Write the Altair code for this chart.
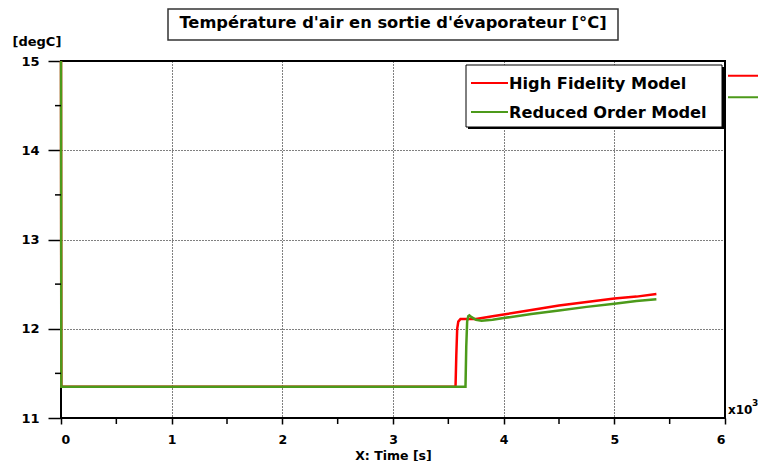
import altair as alt
import pandas as pd

# ---------------- data ----------------
series = ["High Fidelity Model", "Reduced Order Model"]
colors = ["#ff0000", "#4c9a1a"]

# time in 10^3 s
hf_t = [0, 0.003, 3.565, 3.572, 3.58, 3.59, 3.61, 3.65, 3.75, 3.9, 4.0, 4.25, 4.5, 4.75, 5.0, 5.2, 5.38]
hf_y = [15, 11.35, 11.35, 11.7, 12.0, 12.08, 12.11, 12.11, 12.11, 12.14, 12.16, 12.21, 12.26, 12.30, 12.34, 12.36, 12.39]

rom_t = [0, 0.003, 3.655, 3.662, 3.67, 3.68, 3.69, 3.71, 3.75, 3.8, 3.9, 4.0, 4.25, 4.5, 4.75, 5.0, 5.2, 5.38]
rom_y = [15, 11.35, 11.35, 11.8, 12.08, 12.14, 12.15, 12.13, 12.10, 12.09, 12.10, 12.12, 12.165, 12.205, 12.245, 12.28, 12.31, 12.33]

x_ticks = [0, 1, 2, 3, 4, 5, 6]
x_minor = [0.5, 1.5, 2.5, 3.5, 4.5, 5.5]
y_ticks = [11, 12, 13, 14, 15]
y_minor = [11.5, 12.5, 13.5, 14.5]

title_text = "Température d'air en sortie d'évaporateur [°C]"
y_unit = "[degC]"
x_title = "X: Time [s]"

df = pd.DataFrame({
    "t": hf_t + rom_t,
    "y": hf_y + rom_y,
    "series": [series[0]] * len(hf_t) + [series[1]] * len(rom_t),
})

W, H = 664, 357
FONT = "DejaVu Sans"
xs = alt.Scale(domain=[0, 6], nice=False, zero=False)
ys = alt.Scale(domain=[11, 15], nice=False, zero=False)
one = pd.DataFrame({"k": [0]})

x_axis = alt.Axis(
    values=x_ticks, format="d", title=x_title, grid=True, gridDash=[1, 2],
    gridColor="black", gridOpacity=1, gridWidth=1, domain=False,
    tickSize=6, tickColor="black", tickWidth=1.5, labelPadding=9,
    labelFontWeight="bold", labelFontSize=12.5, labelColor="black", labelFont=FONT,
    titleFontWeight="bold", titleFontSize=12.5, titleColor="black", titleFont=FONT,
    titleY=37, titleBaseline="middle",
)
y_axis = alt.Axis(
    values=y_ticks, format="d", title=y_unit, grid=True, gridDash=[1, 2],
    gridColor="black", gridOpacity=1, gridWidth=1, domain=False,
    tickSize=13, tickColor="black", tickWidth=1.5, labelPadding=9,
    labelFontWeight="bold", labelFontSize=13, labelColor="black", labelFont=FONT,
    titleFontWeight="bold", titleFontSize=13, titleColor="black", titleFont=FONT,
    titleAngle=0, titleX=-49, titleY=-20, titleAlign="left", titleBaseline="middle",
)

layers = []
for s, c in zip(series, colors):
    layers.append(
        alt.Chart(df).transform_filter(alt.datum.series == s)
        .mark_line(color=c, strokeWidth=2.5)
        .encode(
            x=alt.X("t:Q", scale=xs, axis=x_axis),
            y=alt.Y("y:Q", scale=ys, axis=y_axis),
        )
    )

# minor ticks
layers.append(
    alt.Chart(pd.DataFrame({"v": x_minor})).mark_rule(color="black", strokeWidth=1.5)
    .encode(x=alt.X("v:Q", scale=xs, axis=x_axis), y=alt.value(H), y2=alt.value(H + 6))
)
layers.append(
    alt.Chart(pd.DataFrame({"v": y_minor})).mark_rule(color="black", strokeWidth=1.5)
    .encode(y=alt.Y("v:Q", scale=ys, axis=y_axis), x=alt.value(-6), x2=alt.value(0))
)

# title box
layers.append(
    alt.Chart(one).mark_rect(fill="white", stroke="#333333", strokeWidth=1.5)
    .encode(x=alt.value(107), x2=alt.value(557), y=alt.value(-52), y2=alt.value(-21))
)
layers.append(
    alt.Chart(one).mark_text(text=title_text, font=FONT, fontSize=16.3, fontWeight="bold",
                             color="black", align="center", baseline="middle")
    .encode(x=alt.value(332), y=alt.value(-38))
)

# legend box (shadow + box)
layers.append(
    alt.Chart(one).mark_rect(fill="black")
    .encode(x=alt.value(407), x2=alt.value(663), y=alt.value(6), y2=alt.value(68))
)
layers.append(
    alt.Chart(one).mark_rect(fill="white", stroke="black", strokeWidth=1)
    .encode(x=alt.value(405), x2=alt.value(661), y=alt.value(4), y2=alt.value(66))
)
for i, (s, c) in enumerate(zip(series, colors)):
    ly = 22 + 29 * i
    layers.append(
        alt.Chart(one).mark_rule(color=c, strokeWidth=2)
        .encode(x=alt.value(410), x2=alt.value(447), y=alt.value(ly))
    )
    layers.append(
        alt.Chart(one).mark_text(text=s, font=FONT, fontSize=16.2, fontWeight="bold",
                                 color="black", align="left", baseline="middle")
        .encode(x=alt.value(448), y=alt.value(ly + 1))
    )
    # series markers on the right, outside the plot
    ry = 14.7 + 21.6 * i
    layers.append(
        alt.Chart(one).mark_rule(color=c, strokeWidth=2)
        .encode(x=alt.value(667), x2=alt.value(710), y=alt.value(ry))
    )

# x10^3 multiplier
layers.append(
    alt.Chart(one).mark_text(text="x10", font=FONT, fontSize=12, fontWeight="bold",
                             color="black", align="left", baseline="middle")
    .encode(x=alt.value(667), y=alt.value(349))
)
layers.append(
    alt.Chart(one).mark_text(text="3", font=FONT, fontSize=9, fontWeight="bold",
                             color="black", align="left", baseline="middle")
    .encode(x=alt.value(691), y=alt.value(342))
)

chart = (
    alt.layer(*layers)
    .properties(
        width=W, height=H,
        autosize=alt.AutoSizeParams(type="none"),
        padding={"left": 53, "top": 53, "right": 33, "bottom": 43},
        background="white",
    )
    .configure(font=FONT)
    .configure_view(stroke="black", strokeWidth=2)
)

chart.save("out.html", embed_options={"renderer": "svg", "actions": False})
